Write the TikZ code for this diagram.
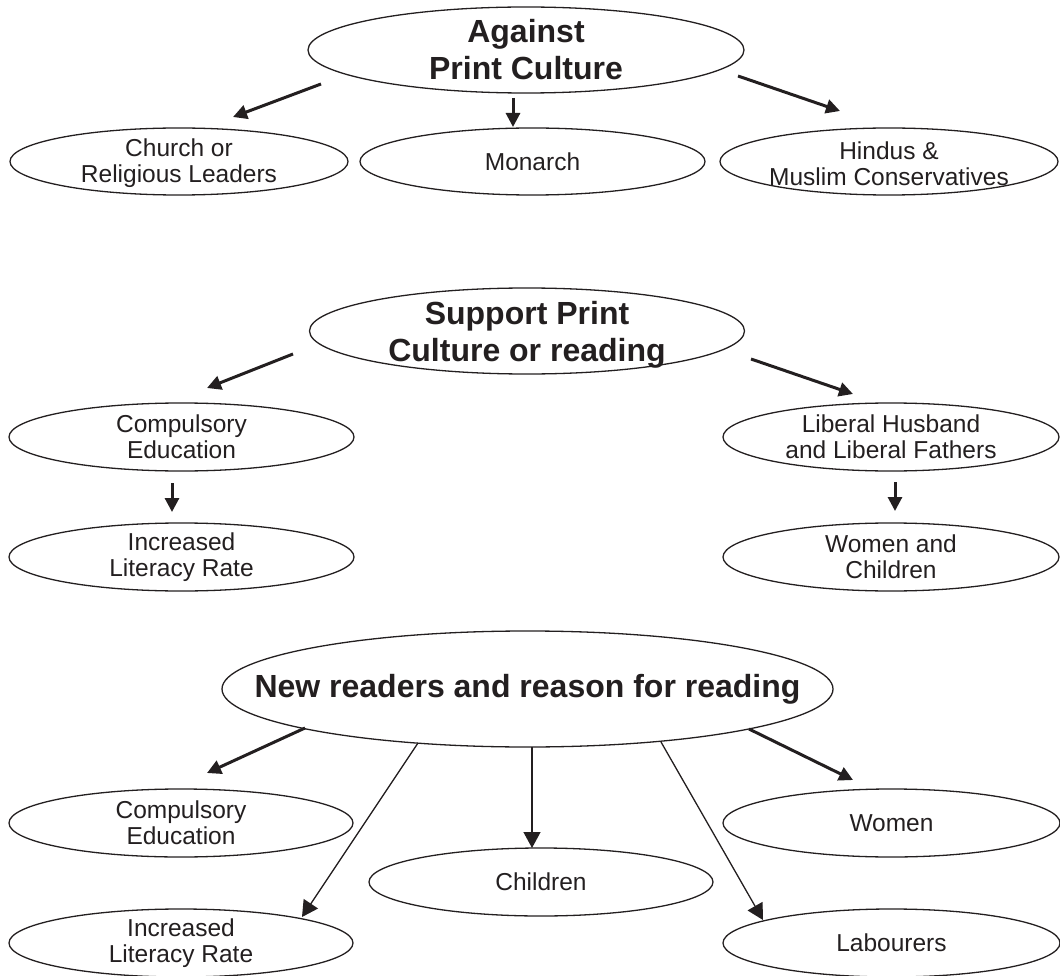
\documentclass[tikz,border=0pt]{standalone}
\usepackage{fontspec}
\setmainfont{Liberation Sans}
\usetikzlibrary{shapes.geometric,arrows.meta}
\definecolor{ink}{HTML}{231F20}
\tikzset{
  bubble/.style={draw=ink, line width=1.3pt, ellipse, inner sep=0pt},
  small/.style={text=ink, align=center, font=\fontsize{24.5}{26}\selectfont},
  big/.style={text=ink, align=center, font=\fontsize{32}{37}\selectfont\bfseries},
  thick arr/.style={draw=ink, line width=3pt, -{Triangle[length=14pt,width=14pt]}},
  thin arr/.style={draw=ink, line width=1.3pt, -{Triangle[length=16pt,width=17pt]}},
}
\begin{document}
\begin{tikzpicture}[x=1pt,y=-1pt]
\useasboundingbox (0,0) rectangle (1060,976);
% ---------- Against print culture ----------
\node[bubble, minimum width=436pt, minimum height=86pt] (against) at (526,50) {};
\node[big] at (against) {Against\\Print Culture};
\node[bubble, minimum width=338pt, minimum height=67pt] (church) at (179,161.5) {};
\node[small] at ([yshift=-2pt]church.center) {Church or\\Religious Leaders};
\node[bubble, minimum width=345pt, minimum height=67pt] (monarch) at (532.5,161.5) {};
\node[small] at (monarch) {Monarch};
\node[bubble, minimum width=338pt, minimum height=67pt] (hindus) at (889,161.5) {};
\node[small] at ([yshift=-2pt]hindus.center) {Hindus \&\\Muslim Conservatives};
\coordinate (a1s) at (321,84);  \coordinate (a1e) at (233,117);
\coordinate (a2s) at (513,98);  \coordinate (a2e) at (513,127);
\coordinate (a3s) at (738,76);  \coordinate (a3e) at (840,111);
\draw[thick arr] (a1s) -- (a1e);
\draw[thick arr] (a2s) -- (a2e);
\draw[thick arr] (a3s) -- (a3e);
% ---------- Support print culture ----------
\node[bubble, minimum width=435pt, minimum height=86pt] (support) at (527,331) {};
\node[big] at ([yshift=-4pt]support.center) {Support Print\\Culture or reading};
\node[bubble, minimum width=345pt, minimum height=68pt] (comp1) at (181.5,437) {};
\node[small] at (comp1) {Compulsory\\Education};
\node[bubble, minimum width=345pt, minimum height=68pt] (incr1) at (181.5,557) {};
\node[small] at (incr1) {Increased\\Literacy Rate};
\node[bubble, minimum width=336pt, minimum height=68pt] (liberal) at (891,437) {};
\node[small] at (liberal) {Liberal Husband\\and Liberal Fathers};
\node[bubble, minimum width=336pt, minimum height=68pt] (womch) at (891,557) {};
\node[small] at (womch) {Women and\\Children};
\coordinate (b1s) at (293,354); \coordinate (b1e) at (207,388);
\coordinate (b2s) at (172,483); \coordinate (b2e) at (172,512);
\coordinate (b3s) at (751,359); \coordinate (b3e) at (853,394);
\coordinate (b4s) at (895,482); \coordinate (b4e) at (895,511);
\draw[thick arr] (b1s) -- (b1e);
\draw[thick arr] (b2s) -- (b2e);
\draw[thick arr] (b3s) -- (b3e);
\draw[thick arr] (b4s) -- (b4e);
% ---------- New readers ----------
\node[bubble, minimum width=611pt, minimum height=116pt] (new) at (527.5,689) {};
\node[big] at (new) {New readers and reason for reading};
\node[bubble, minimum width=344pt, minimum height=68pt] (comp2) at (181,823) {};
\node[small] at (comp2) {Compulsory\\Education};
\node[bubble, minimum width=344pt, minimum height=68pt] (incr2) at (181,943) {};
\node[small] at (incr2) {Increased\\Literacy Rate};
\node[bubble, minimum width=344pt, minimum height=68pt] (child) at (541,882) {};
\node[small] at (child) {Children};
\node[bubble, minimum width=337pt, minimum height=68pt] (women) at (891.5,823) {};
\node[small] at (women) {Women};
\node[bubble, minimum width=337pt, minimum height=68pt] (labour) at (891.5,943) {};
\node[small] at (labour) {Labourers};
\coordinate (c1s) at (305,728); \coordinate (c1e) at (207,773);
\coordinate (c2s) at (418,743); \coordinate (c2e) at (302,917);
\coordinate (c3s) at (532,747); \coordinate (c3e) at (532,848);
\coordinate (c4s) at (661,742); \coordinate (c4e) at (763,920);
\coordinate (c5s) at (749,729); \coordinate (c5e) at (853,780);
\draw[thick arr] (c1s) -- (c1e);
\draw[thin arr] (c2s) -- (c2e);
\draw[thin arr] (c3s) -- (c3e);
\draw[thin arr] (c4s) -- (c4e);
\draw[thick arr] (c5s) -- (c5e);
\end{tikzpicture}
\end{document}
